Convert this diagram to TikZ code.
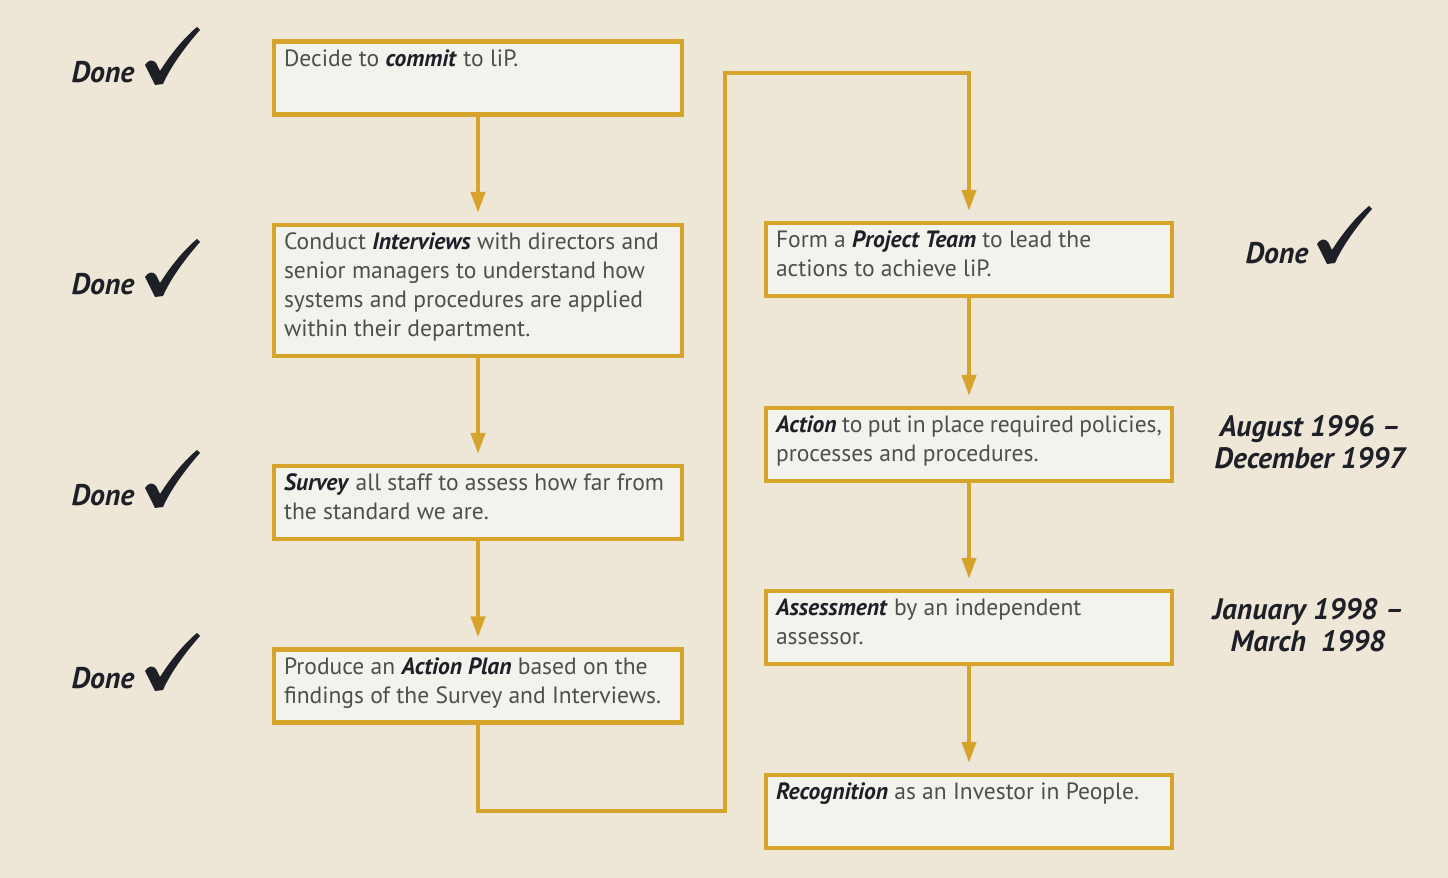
\documentclass[tikz,border=0pt]{standalone}
\usepackage{fontspec}
\setmainfont{PT Sans}
\usetikzlibrary{arrows.meta}
\definecolor{paper}{RGB}{238,230,214}
\definecolor{boxfill}{RGB}{244,242,237}
\definecolor{gold}{RGB}{214,164,42}
\definecolor{ink}{RGB}{30,32,40}
\definecolor{bodytext}{RGB}{78,78,80}
\newcommand{\keyword}[1]{\textcolor{ink}{\textbf{\textit{#1}}}}
\tikzset{
  stepbox/.style={draw=gold, fill=boxfill, line width=2.4pt, inner xsep=0.2cm, inner ysep=0.16cm,
    text=bodytext, font=\fontsize{13.4}{16.5}\selectfont},
  flow/.style={draw=gold, line width=2.3pt, shorten >=0.2cm, -{Triangle[width=8pt,length=12pt]}},
  donetext/.style={text=ink, font=\fontsize{17}{20}\selectfont\bfseries\itshape},
  datetext/.style={text=ink, align=center, font=\fontsize{16.8}{18.2}\selectfont\bfseries\itshape},
  tick/.pic={
    \fill[ink] (-13,-19) .. controls (-10,-24) and (-5,-25) .. (-2,-21) -- (2,-13)
      .. controls (14,-32) and (28,-48) .. (39,-57) -- (42,-54)
      .. controls (26,-36) and (12,-16) .. (5,0) -- (-3,1)
      .. controls (-7,-7) and (-10,-13) .. cycle;
  }
}
\begin{document}
\begin{tikzpicture}[x=0.02cm, y=-0.02cm]
  \useasboundingbox (0,0) rectangle (1448,878);
  \fill[paper] (0,0) rectangle (1448,878);
  % left column
  \node[stepbox] (commit) at (478,78) {\parbox[t][1.14cm][t]{7.76cm}{Decide to \keyword{commit} to liP.}};
  \node[stepbox] (interviews) at (478,290.5) {\parbox[t][2.30cm][t]{7.76cm}{Conduct \keyword{Interviews} with directors and\\
    senior managers to understand how\\ systems and procedures are applied\\ within their department.}};
  \node[stepbox] (survey) at (478,502.5) {\parbox[t][1.14cm][t]{7.76cm}{\keyword{Survey} all staff to assess how far from\\ the standard we are.}};
  \node[stepbox] (plan) at (478,686) {\parbox[t][1.14cm][t]{7.76cm}{Produce an \keyword{Action Plan} based on the\\ findings of the Survey and Interviews.}};
  % right column
  \node[stepbox] (team) at (969,259.5) {\parbox[t][1.14cm][t]{7.72cm}{Form a \keyword{Project Team} to lead the\\ actions to achieve liP.}};
  \node[stepbox] (action) at (969,444.5) {\parbox[t][1.14cm][t]{7.72cm}{\keyword{Action} to put in place required policies,\\ processes and procedures.}};
  \node[stepbox] (assess) at (969,627.5) {\parbox[t][1.14cm][t]{7.72cm}{\keyword{Assessment} by an independent\\ assessor.}};
  \node[stepbox] (recog) at (969,811.5) {\parbox[t][1.14cm][t]{7.72cm}{\keyword{Recognition} as an Investor in People.}};
  % connectors
  \coordinate (turnA) at (725,811);
  \coordinate (turnB) at (725,73);
  \draw[flow] (commit) -- (interviews);
  \draw[flow] (interviews) -- (survey);
  \draw[flow] (survey) -- (plan);
  \draw[flow] (plan.south) |- (turnA) -- (turnB) -| (team.north);
  \draw[flow] (team) -- (action);
  \draw[flow] (action) -- (assess);
  \draw[flow] (assess) -- (recog);
  % status marks
  \node[donetext] (doneA) at (103,72) {Done};
  \node[donetext] (doneB) at (103,284) {Done};
  \node[donetext] (doneC) at (103,495) {Done};
  \node[donetext] (doneD) at (103,678) {Done};
  \node[donetext] (doneE) at (1277,253) {Done};
  \pic at (158,84) {tick};
  \pic at (158,296) {tick};
  \pic at (158,507) {tick};
  \pic at (158,690) {tick};
  \pic at (1330,263) {tick};
  \node[datetext] (phaseA) at (1310,442) {August 1996 –\\December 1997};
  \node[datetext] (phaseB) at (1308,625) {January 1998 –\\March\ \ 1998};
\end{tikzpicture}
\end{document}
